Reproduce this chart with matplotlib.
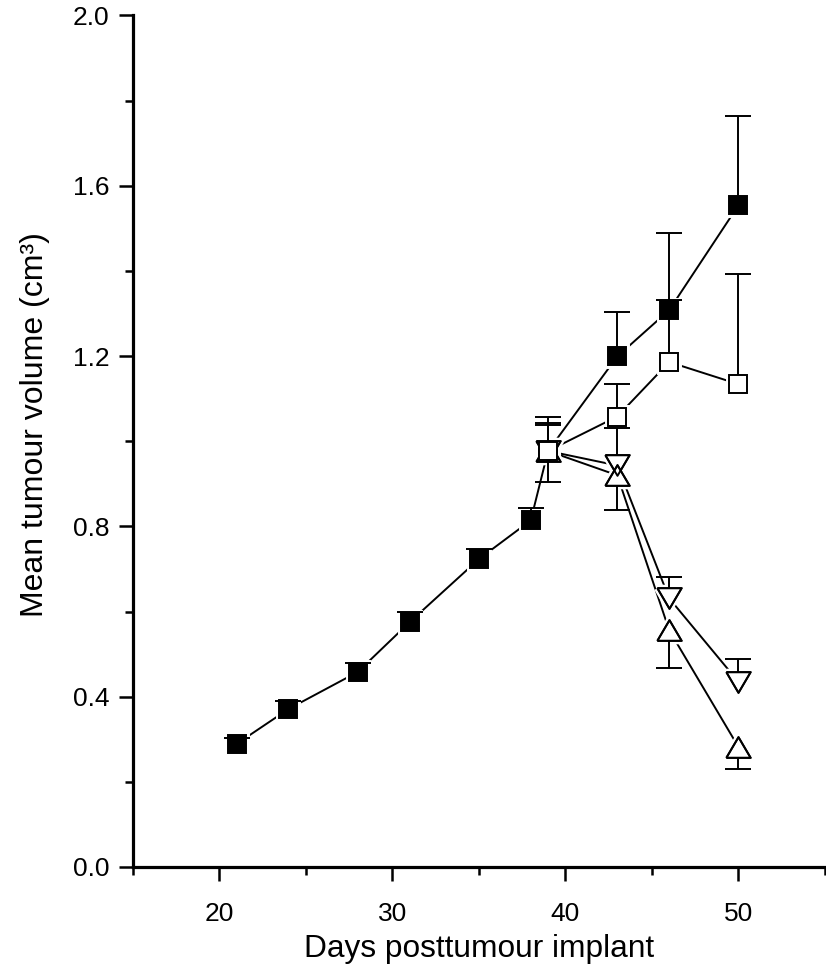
import numpy as np
import matplotlib
matplotlib.use("Agg")
import matplotlib.pyplot as plt
from matplotlib.ticker import MultipleLocator, FormatStrFormatter

# Dias pós-implante
DAYS_CTRL = [21, 24, 28, 31, 35, 38, 39, 43, 46, 50]
DAYS_TREAT = [39, 43, 46, 50]

# Volume médio do tumor (cm3) e erro (só um lado visível)
VOL_CTRL = [0.289, 0.371, 0.458, 0.575, 0.723, 0.814, 0.977, 1.199, 1.308, 1.554]
ERR_CTRL = [0.014, 0.019, 0.021, 0.024, 0.025, 0.029, 0.080, 0.104, 0.181, 0.209]

VOL_OPEN = [0.977, 1.058, 1.186, 1.134]
ERR_OPEN = [0.065, 0.076, 0.145, 0.258]

VOL_DOWN = [0.977, 0.943, 0.631, 0.435]
ERR_DOWN = [0.060, 0.087, 0.050, 0.053]

VOL_UP = [0.977, 0.920, 0.556, 0.282]
ERR_UP = [0.073, 0.082, 0.088, 0.052]

TRI_UP = [(-1, -0.85), (1, -0.85), (0, 0.85), (-1, -0.85)]
TRI_DOWN = [(-1, 0.85), (1, 0.85), (0, -0.85), (-1, 0.85)]

FONT = ["Liberation Sans", "DejaVu Sans"]
LW = 1.4


def draw_series(ax, x, y, err, marker, ms, face, z, upper=True, outline=False):
    x = np.asarray(x, dtype=float)
    y = np.asarray(y, dtype=float)
    err = np.asarray(err, dtype=float)
    zero = np.zeros_like(err)

    ax.plot(x, y, color="black", lw=LW, zorder=1, solid_capstyle="butt")
    # halo branco para abrir o espaço entre linha e marcador
    ax.plot(x, y, ls="none", marker=marker, ms=ms, mfc="white", mec="white",
            mew=5, zorder=2)

    yerr = [zero, err] if upper else [err, zero]
    _, caps, _ = ax.errorbar(x, y, yerr=yerr, fmt="none", ecolor="black",
                             elinewidth=LW, capsize=9.5, capthick=LW, zorder=3)
    for cap in caps:
        if np.allclose(cap.get_ydata(), y):
            cap.set_visible(False)

    ax.plot(x, y, ls="none", marker=marker, ms=ms, mfc=face, mec="black",
            mew=LW, zorder=z)
    if outline:
        # contorno por cima, para os triângulos sobrepostos ficarem visíveis
        ax.plot(x, y, ls="none", marker=marker, ms=ms, mfc="none", mec="black",
                mew=LW, zorder=z + 0.5)


def main():
    fig = plt.figure(figsize=(8.26, 9.66), dpi=100)
    ax = fig.add_axes([0.1607, 0.1025, 0.838, 0.8815])

    draw_series(ax, DAYS_CTRL, VOL_CTRL, ERR_CTRL, "s", 13.5, "black", 4)
    draw_series(ax, DAYS_TREAT, VOL_DOWN, ERR_DOWN, TRI_DOWN, 17.5, "white", 4,
                outline=True)
    draw_series(ax, DAYS_TREAT, VOL_UP, ERR_UP, TRI_UP, 17.5, "white", 4,
                upper=False, outline=True)
    draw_series(ax, DAYS_TREAT, VOL_OPEN, ERR_OPEN, "s", 13.5, "white", 5)

    ax.set_xlim(15, 55)
    ax.set_ylim(0, 2.0)
    ax.xaxis.set_major_locator(MultipleLocator(10))
    ax.xaxis.set_minor_locator(MultipleLocator(5))
    ax.yaxis.set_major_locator(MultipleLocator(0.4))
    ax.yaxis.set_minor_locator(MultipleLocator(0.2))
    ax.set_xticks([20, 30, 40, 50])
    ax.yaxis.set_major_formatter(FormatStrFormatter("%.1f"))

    for side in ("top", "right"):
        ax.spines[side].set_visible(False)
    for side in ("left", "bottom"):
        ax.spines[side].set_linewidth(2.3)

    ax.tick_params(which="major", length=10, width=1.8, direction="out")
    ax.tick_params(which="minor", length=6, width=1.8, direction="out")
    ax.tick_params(axis="x", which="major", pad=15)
    ax.tick_params(axis="y", which="major", pad=7)
    for lab in ax.get_xticklabels() + ax.get_yticklabels():
        lab.set_family(FONT)
        lab.set_fontsize(19)

    ax.set_xlabel("Days posttumour implant", family=FONT, fontsize=22.8, labelpad=6)
    ax.set_ylabel("Mean tumour volume (cm³)", family=FONT, fontsize=23)
    ax.yaxis.set_label_coords(-0.12, 0.519)

    fig.savefig("out.png", dpi=100)
    plt.close(fig)


if __name__ == "__main__":
    main()
